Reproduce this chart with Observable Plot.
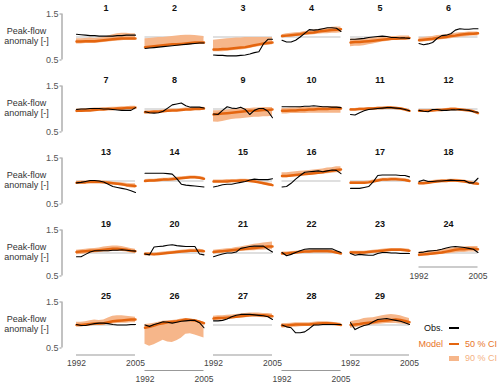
<!DOCTYPE html>
<html><head><meta charset="utf-8">
<script src="https://cdn.jsdelivr.net/npm/d3@7"></script>
<script src="https://cdn.jsdelivr.net/npm/@observablehq/plot@0.6"></script>
<style>
body{margin:0;background:#fff;font-family:"Liberation Sans",Arial,sans-serif;}
#wrap{position:relative;width:500px;height:386px;}
.lg{position:absolute;font-size:9px;line-height:10px;white-space:nowrap;}
.sw{position:absolute;}
</style></head><body><div id="wrap"></div>
<script>
const years = [1992,1993,1994,1995,1996,1997,1998,1999,2000,2001,2002,2003,2004,2005];
const panelLabels = ["1","2","3","4","5","6","7","8","9","10","11","12","13","14","15","16","17","18","19","20","21","22","23","24","25","26","27","28","29"];
const yTicks = [0.5, 1.5];
const yTickLabels = ["0.5", "1.5"];
const xTickYears = [1992, 2005];
const xTickLabels = ["1992", "2005"];
const refValue = 1;
const yLabel = "Peak-flow\nanomaly [-]";

const obs = [
[1.06,1.05,1.04,1.03,1.03,1.02,1.02,1.02,1.02,1.03,1.03,1.04,1.04,1.04],
[0.75,0.76,0.77,0.78,0.79,0.80,0.81,0.82,0.83,0.84,0.85,0.86,0.87,0.87],
[0.61,0.60,0.60,0.59,0.59,0.59,0.60,0.61,0.63,0.66,0.68,0.85,0.95,0.95],
[0.93,0.89,0.89,0.93,1.00,1.08,1.16,1.15,1.16,1.18,1.20,1.20,1.19,1.12],
[0.95,0.95,0.96,0.97,0.99,1.00,1.01,1.02,1.01,0.99,0.99,0.98,0.98,0.97],
[0.86,0.83,0.85,0.88,0.97,1.03,1.04,1.07,1.15,1.18,1.17,1.17,1.18,1.18],
[0.99,1.00,1.00,1.01,1.01,1.01,1.00,1.00,0.99,0.98,0.97,0.97,0.97,1.03],
[0.94,0.92,0.91,0.92,0.95,1.02,1.09,1.11,1.13,1.07,1.04,1.04,1.04,1.02],
[0.89,0.88,0.97,1.05,1.02,1.01,1.04,0.99,0.88,0.97,1.01,1.01,0.95,0.81],
[1.05,1.05,1.05,1.05,1.05,1.06,1.06,1.07,1.06,1.05,1.05,1.04,1.04,1.03],
[0.88,0.87,0.92,0.96,0.99,1.00,1.01,1.02,1.03,1.03,1.02,1.01,0.99,0.96],
[0.97,0.95,0.94,0.99,0.99,0.97,0.97,0.98,0.98,0.99,0.98,0.97,0.94,0.93],
[0.96,0.97,0.99,1.01,1.01,1.00,0.98,0.93,0.88,0.86,0.84,0.82,0.79,0.75],
[1.17,1.17,1.17,1.17,1.17,1.16,1.15,1.05,0.93,0.91,0.90,0.89,0.88,0.87],
[0.87,0.89,0.92,0.93,0.93,0.95,0.97,0.99,1.02,1.04,1.03,1.03,1.03,1.05],
[0.87,0.88,0.95,1.04,1.12,1.19,1.20,1.21,1.22,1.20,1.22,1.24,1.23,1.16],
[0.84,0.84,0.84,0.86,0.88,0.98,1.12,1.13,1.13,1.13,1.13,1.12,1.12,1.09],
[0.99,1.02,0.99,0.99,1.00,1.00,1.01,1.02,1.01,1.01,1.01,0.96,0.96,1.06],
[0.92,0.92,0.97,1.02,1.05,1.05,1.05,1.05,1.06,1.06,1.07,1.06,1.05,1.04],
[0.98,0.96,1.13,1.14,1.15,1.17,1.18,1.16,1.15,1.14,1.14,1.14,0.98,0.96],
[0.92,0.95,0.98,1.00,1.00,1.02,1.10,1.12,1.14,1.15,1.15,1.15,1.08,1.02],
[1.01,0.94,0.97,1.01,1.05,1.08,1.09,1.09,1.09,1.09,1.09,1.09,1.05,1.01],
[0.99,0.95,0.97,0.96,0.95,0.95,0.99,1.01,1.01,1.00,1.00,0.99,0.99,0.99],
[1.01,1.02,1.04,1.05,1.06,1.08,1.11,1.13,1.14,1.13,1.12,1.10,1.08,1.01],
[1.01,0.99,0.99,1.01,1.03,1.04,1.04,1.03,1.01,1.00,1.00,1.00,1.01,1.01],
[1.00,0.97,1.01,1.04,1.07,1.06,1.04,1.06,1.08,1.09,1.10,1.10,1.05,0.94],
[1.09,1.09,1.10,1.13,1.18,1.21,1.23,1.23,1.23,1.22,1.21,1.20,1.18,1.12],
[1.00,0.96,0.94,0.83,0.83,0.85,0.92,1.00,1.00,1.01,1.01,1.01,1.01,1.01],
[1.05,0.90,0.95,0.99,1.01,1.07,1.12,1.13,1.14,1.12,1.10,1.08,1.05,1.01]
];

const modelMid = [
[0.90,0.90,0.91,0.91,0.91,0.92,0.93,0.94,0.95,0.96,0.97,0.97,0.97,0.97],
[0.78,0.79,0.80,0.81,0.82,0.83,0.84,0.84,0.85,0.86,0.87,0.88,0.88,0.88],
[0.73,0.73,0.74,0.74,0.75,0.76,0.77,0.78,0.80,0.82,0.84,0.86,0.87,0.88],
[1.02,1.03,1.04,1.05,1.06,1.08,1.09,1.10,1.12,1.13,1.14,1.15,1.16,1.17],
[0.88,0.89,0.89,0.90,0.91,0.92,0.93,0.94,0.95,0.96,0.96,0.97,0.97,0.98],
[0.93,0.94,0.95,0.96,0.98,0.99,1.00,1.02,1.03,1.05,1.06,1.07,1.07,1.08],
[0.96,0.96,0.97,0.97,0.98,0.99,0.99,1.00,1.00,1.01,1.01,1.02,1.02,1.03],
[0.93,0.93,0.94,0.94,0.95,0.96,0.97,0.97,0.98,0.99,0.99,1.00,1.00,1.01],
[0.88,0.89,0.90,0.91,0.92,0.93,0.94,0.95,0.96,0.96,0.97,0.98,0.98,0.99],
[0.96,0.96,0.97,0.97,0.98,0.98,0.99,0.99,1.00,1.00,1.00,1.01,1.01,1.01],
[0.99,0.99,1.00,1.00,1.01,1.01,1.02,1.02,1.03,1.03,1.02,1.01,0.99,0.96],
[0.96,0.96,0.96,0.97,0.98,0.98,0.99,1.00,1.00,0.99,0.98,0.97,0.95,0.91],
[0.96,0.97,0.97,0.98,0.98,0.98,0.97,0.96,0.95,0.94,0.93,0.91,0.90,0.89],
[1.00,1.01,1.01,1.02,1.03,1.03,1.04,1.05,1.06,1.07,1.08,1.08,1.07,1.05],
[0.99,0.99,0.99,0.99,1.00,1.00,1.01,1.01,1.00,0.99,0.97,0.95,0.93,0.91],
[1.11,1.11,1.12,1.13,1.14,1.15,1.16,1.17,1.18,1.19,1.21,1.22,1.24,1.25],
[0.96,0.96,0.96,0.96,0.97,0.99,1.01,1.03,1.03,1.04,1.04,1.03,1.02,1.00],
[0.95,0.95,0.96,0.98,0.99,1.00,1.00,1.01,1.01,1.00,0.99,0.97,0.95,0.94],
[1.02,1.03,1.04,1.05,1.05,1.06,1.07,1.08,1.09,1.09,1.08,1.07,1.05,1.04],
[0.98,0.98,0.97,0.98,0.99,1.00,1.01,1.02,1.03,1.04,1.05,1.05,1.05,1.04],
[1.02,1.03,1.04,1.05,1.06,1.07,1.08,1.09,1.10,1.11,1.12,1.13,1.14,1.14],
[0.99,0.99,1.00,1.01,1.02,1.03,1.03,1.04,1.04,1.04,1.04,1.03,1.01,0.99],
[1.01,1.01,1.01,1.01,1.02,1.03,1.04,1.05,1.06,1.07,1.07,1.07,1.06,1.05],
[0.96,0.97,0.98,0.99,1.00,1.01,1.03,1.05,1.07,1.08,1.08,1.09,1.09,1.08],
[1.00,1.00,1.01,1.02,1.03,1.03,1.04,1.06,1.08,1.09,1.10,1.11,1.12,1.12],
[0.94,0.96,0.99,1.02,1.04,1.06,1.07,1.08,1.10,1.12,1.11,1.10,1.07,1.04],
[1.14,1.15,1.15,1.16,1.17,1.18,1.19,1.20,1.21,1.22,1.21,1.21,1.20,1.19],
[0.99,0.99,1.00,1.01,1.01,1.01,1.01,1.02,1.03,1.04,1.04,1.03,1.02,1.00],
[1.00,1.01,1.02,1.04,1.05,1.06,1.08,1.09,1.10,1.11,1.12,1.11,1.09,1.06]
];

const ci90Lo = [
[0.85,0.85,0.86,0.86,0.86,0.87,0.88,0.89,0.90,0.91,0.92,0.93,0.93,0.93],
[0.75,0.76,0.77,0.78,0.79,0.80,0.81,0.81,0.82,0.83,0.84,0.85,0.86,0.86],
[0.68,0.68,0.68,0.69,0.70,0.71,0.72,0.73,0.75,0.77,0.79,0.81,0.82,0.83],
[0.98,0.99,1.00,1.01,1.02,1.03,1.04,1.05,1.06,1.07,1.07,1.08,1.08,1.09],
[0.79,0.80,0.80,0.81,0.83,0.85,0.87,0.89,0.90,0.92,0.93,0.94,0.95,0.95],
[0.89,0.89,0.90,0.91,0.93,0.94,0.95,0.96,0.98,0.99,1.00,1.01,1.02,1.02],
[0.92,0.93,0.93,0.94,0.95,0.96,0.96,0.97,0.97,0.98,0.98,0.99,0.99,0.99],
[0.90,0.90,0.91,0.91,0.92,0.93,0.94,0.94,0.95,0.96,0.96,0.97,0.97,0.98],
[0.72,0.71,0.73,0.75,0.77,0.78,0.79,0.80,0.81,0.82,0.82,0.83,0.83,0.84],
[0.89,0.89,0.90,0.90,0.90,0.90,0.91,0.91,0.91,0.91,0.91,0.91,0.91,0.91],
[0.97,0.97,0.98,0.98,0.99,0.99,1.00,1.00,1.01,1.01,1.00,0.99,0.97,0.94],
[0.94,0.94,0.94,0.95,0.96,0.96,0.97,0.98,0.98,0.97,0.96,0.95,0.93,0.89],
[0.93,0.94,0.94,0.95,0.95,0.95,0.94,0.93,0.92,0.91,0.89,0.87,0.85,0.84],
[0.97,0.97,0.98,0.98,0.99,1.00,1.01,1.02,1.03,1.04,1.05,1.05,1.04,1.02],
[0.96,0.96,0.96,0.96,0.97,0.97,0.98,0.98,0.97,0.96,0.94,0.92,0.90,0.88],
[1.07,1.07,1.08,1.09,1.10,1.11,1.12,1.13,1.14,1.15,1.16,1.17,1.18,1.18],
[0.93,0.93,0.93,0.93,0.94,0.96,0.98,1.00,1.00,1.01,1.01,1.00,0.99,0.97],
[0.92,0.92,0.93,0.95,0.96,0.97,0.97,0.98,0.98,0.97,0.96,0.94,0.92,0.91],
[0.96,0.97,0.98,0.99,1.00,1.01,1.02,1.02,1.03,1.03,1.03,1.02,1.00,0.99],
[0.95,0.95,0.94,0.95,0.96,0.97,0.98,0.99,1.00,1.01,1.02,1.02,1.02,1.01],
[0.98,0.99,1.00,1.01,1.01,1.02,1.03,1.04,1.05,1.05,1.06,1.06,1.07,1.07],
[0.96,0.96,0.97,0.98,0.99,1.00,1.00,1.01,1.01,1.01,1.01,1.00,0.98,0.96],
[0.98,0.98,0.98,0.98,0.99,1.00,1.01,1.02,1.03,1.04,1.04,1.04,1.03,1.02],
[0.92,0.93,0.94,0.95,0.96,0.97,0.98,0.99,1.00,1.01,1.01,1.02,1.02,1.02],
[0.96,0.96,0.97,0.98,0.99,0.99,1.00,1.01,1.02,1.03,1.04,1.04,1.05,1.05],
[0.58,0.54,0.57,0.62,0.67,0.63,0.62,0.66,0.71,0.80,0.81,0.78,0.75,0.72],
[1.10,1.10,1.11,1.12,1.13,1.14,1.15,1.16,1.17,1.17,1.17,1.16,1.16,1.15],
[0.93,0.94,0.95,0.95,0.96,0.97,0.97,0.98,0.99,1.00,1.00,0.99,0.98,0.97],
[0.93,0.94,0.96,0.97,0.99,1.00,1.01,1.02,1.03,1.03,1.03,1.02,1.01,1.00]
];

const ci90Hi = [
[0.96,0.96,0.97,0.98,0.97,0.98,0.99,1.02,1.05,1.07,1.08,1.08,1.07,1.07],
[0.96,0.97,0.98,0.99,0.99,1.00,1.01,1.02,1.03,1.04,1.04,1.03,1.02,1.01],
[0.93,0.94,0.95,0.96,0.97,0.98,0.98,0.99,0.99,0.99,0.99,0.99,0.99,0.99],
[1.05,1.07,1.08,1.09,1.10,1.12,1.13,1.15,1.16,1.18,1.19,1.21,1.22,1.22],
[0.95,0.95,0.96,0.96,0.97,0.98,0.99,1.00,1.00,1.01,1.01,1.02,1.02,1.02],
[0.98,0.99,1.00,1.01,1.03,1.04,1.05,1.07,1.08,1.09,1.10,1.11,1.11,1.11],
[1.00,1.00,1.01,1.01,1.02,1.02,1.03,1.03,1.04,1.04,1.05,1.05,1.06,1.06],
[0.96,0.96,0.97,0.97,0.98,0.99,1.00,1.00,1.01,1.02,1.02,1.03,1.03,1.04],
[0.96,0.96,0.97,0.98,0.99,1.00,1.00,1.01,1.01,1.02,1.02,1.03,1.03,1.03],
[1.01,1.01,1.02,1.02,1.03,1.03,1.03,1.04,1.04,1.04,1.05,1.05,1.05,1.05],
[1.01,1.01,1.02,1.02,1.03,1.03,1.04,1.04,1.05,1.05,1.04,1.03,1.01,0.98],
[0.98,0.98,0.98,0.99,1.00,1.00,1.01,1.02,1.02,1.01,1.00,0.99,0.97,0.93],
[0.99,1.00,1.00,1.01,1.01,1.01,1.00,0.99,0.98,0.97,0.96,0.95,0.94,0.94],
[1.03,1.04,1.04,1.05,1.06,1.06,1.07,1.08,1.09,1.10,1.11,1.11,1.10,1.08],
[1.02,1.02,1.02,1.03,1.03,1.03,1.04,1.04,1.03,1.02,1.00,0.98,0.96,0.94],
[1.18,1.18,1.19,1.20,1.21,1.22,1.23,1.24,1.25,1.26,1.28,1.29,1.31,1.31],
[0.99,0.99,0.99,0.99,1.00,1.02,1.04,1.06,1.06,1.07,1.07,1.06,1.05,1.03],
[0.98,0.98,0.99,1.01,1.02,1.03,1.03,1.04,1.04,1.03,1.02,1.00,0.98,0.97],
[1.06,1.07,1.08,1.09,1.10,1.11,1.13,1.14,1.15,1.15,1.14,1.12,1.10,1.08],
[1.01,1.01,1.00,1.01,1.02,1.03,1.04,1.05,1.06,1.07,1.08,1.08,1.08,1.07],
[1.06,1.07,1.08,1.09,1.10,1.12,1.13,1.15,1.17,1.19,1.20,1.22,1.23,1.24],
[1.02,1.02,1.03,1.04,1.05,1.06,1.06,1.07,1.07,1.07,1.07,1.06,1.04,1.02],
[1.04,1.04,1.04,1.04,1.05,1.06,1.07,1.08,1.09,1.10,1.10,1.10,1.09,1.08],
[1.02,1.03,1.04,1.05,1.06,1.07,1.09,1.10,1.12,1.13,1.13,1.14,1.14,1.14],
[1.06,1.06,1.07,1.09,1.11,1.10,1.11,1.15,1.19,1.20,1.20,1.19,1.18,1.17],
[1.01,1.02,1.04,1.06,1.08,1.09,1.10,1.11,1.13,1.14,1.13,1.12,1.09,1.06],
[1.19,1.20,1.20,1.21,1.22,1.23,1.24,1.25,1.26,1.26,1.26,1.25,1.25,1.24],
[1.03,1.03,1.04,1.05,1.05,1.05,1.05,1.06,1.07,1.07,1.07,1.06,1.05,1.04],
[1.07,1.09,1.11,1.14,1.15,1.16,1.18,1.20,1.22,1.23,1.22,1.20,1.17,1.14]
];

const nCols = 6, nRows = 5;
const nPanels = panelLabels.length;

const panels = panelLabels.map((label, i) => ({label, fx: i % nCols, fy: Math.floor(i / nCols)}));
const rows = [];
panels.forEach((p, i) => {
  years.forEach((yr, j) => {
    rows.push({fx: p.fx, fy: p.fy, year: yr, obs: obs[i][j], mid: modelMid[i][j], lo: ci90Lo[i][j], hi: ci90Hi[i][j]});
  });
});

const leftPanels = panels.filter(p => p.fx === 0);
const leftTicks = leftPanels.flatMap(p => yTicks.map((v, k) => ({fx: p.fx, fy: p.fy, v, label: yTickLabels[k]})));

// panel at the bottom of each column gets an x axis
const bottomPanels = d3.range(nCols).map(c => {
  const inCol = panels.filter(p => p.fx === c);
  return inCol[inCol.length - 1];
});
const lastRow = nRows - 1;
const axNormal = bottomPanels.filter(p => p.fy === lastRow && p.fx % 2 === 0);
const axLow = bottomPanels.filter(p => p.fy === lastRow && p.fx % 2 === 1);
const axHigh = bottomPanels.filter(p => p.fy !== lastRow);
const tickRows = g => g.flatMap(p => xTickYears.map((yr, k) => ({fx: p.fx, fy: p.fy, year: yr, label: xTickLabels[k]})));

const axisColor = "#999";
const labelColor = "#444";

function xAxisMarks(group, lineDy, labelDy) {
  return [
    Plot.ruleY(group, {fx: "fx", fy: "fy", y: () => yTicks[0], x1: () => years[0], x2: () => years[years.length - 1], dy: lineDy, stroke: axisColor, strokeWidth: 1.2}),
    Plot.text(tickRows(group), {fx: "fx", fy: "fy", x: "year", text: "label", frameAnchor: "bottom", lineAnchor: "middle", dy: labelDy, fontSize: 8.5, fill: labelColor})
  ];
}

const chart = Plot.plot({
  width: 500,
  height: 386,
  marginLeft: 76,
  marginRight: 22.5,
  marginTop: 13.5,
  marginBottom: 38.5,
  style: {fontFamily: "'Liberation Sans', Arial, sans-serif", fontSize: "9px", background: "white"},
  fx: {domain: d3.range(nCols), paddingInner: 0.139, paddingOuter: 0, round: false, axis: null},
  fy: {domain: d3.range(nRows), paddingInner: 0.361, paddingOuter: 0, round: false, axis: null},
  x: {domain: [years[0], years[years.length - 1]], axis: null},
  y: {domain: [yTicks[0], yTicks[1]], axis: null},
  marks: [
    Plot.ruleY(panels, {fx: "fx", fy: "fy", y: () => refValue, stroke: "#d4d4d4", strokeWidth: 1.6}),
    Plot.areaY(rows, {fx: "fx", fy: "fy", x: "year", y1: "lo", y2: "hi", fill: "#f6b68a", curve: "linear"}),
    Plot.lineY(rows, {fx: "fx", fy: "fy", x: "year", y: "mid", stroke: "#e4650f", strokeWidth: 2.5}),
    Plot.lineY(rows, {fx: "fx", fy: "fy", x: "year", y: "obs", stroke: "#000", strokeWidth: 1.1}),
    Plot.text(panels, {fx: "fx", fy: "fy", text: "label", frameAnchor: "top", lineAnchor: "middle", dy: -6, fontWeight: "bold", fontSize: 9, fill: "#111"}),
    // y axes on the left column
    Plot.ruleX(leftPanels, {fx: "fx", fy: "fy", x: () => years[0], y1: () => yTicks[0], y2: () => yTicks[1], dx: -14.5, stroke: axisColor, strokeWidth: 1.2}),
    Plot.ruleY(leftTicks, {fx: "fx", fy: "fy", y: "v", x1: () => years[0], x2: () => years[0], insetLeft: -16.5, insetRight: 14.5, stroke: axisColor, strokeWidth: 1}),
    Plot.text(leftTicks, {fx: "fx", fy: "fy", y: "v", text: "label", frameAnchor: "left", textAnchor: "end", dx: -18, fontSize: 9, fill: "#555"}),
    Plot.text(leftPanels, {fx: "fx", fy: "fy", text: () => yLabel, frameAnchor: "left", textAnchor: "middle", dx: -50, dy: -1, lineHeight: 1.05, fontSize: 9, fill: "#333"}),
    ...xAxisMarks(axNormal, 7, 15.5),
    ...xAxisMarks(axLow, 22.5, 31.5),
    ...xAxisMarks(axHigh, -9, 0.5)
  ]
});

const wrap = document.getElementById("wrap");
wrap.appendChild(chart);

// legend
const legendItems = [
  {kind: "text", text: "Obs.", right: 57, top: 323, color: "#111"},
  {kind: "swatch", left: 449, top: 327.3, w: 10, h: 1.6, color: "#000"},
  {kind: "text", text: "Model", right: 57, top: 339, color: "#e8742a"},
  {kind: "swatch", left: 449, top: 342.8, w: 10, h: 2.5, color: "#e4650f"},
  {kind: "text", text: "50 % CI", left: 465, top: 339, color: "#e8742a"},
  {kind: "swatch", left: 449, top: 355.5, w: 10, h: 5, color: "#f6b68a"},
  {kind: "text", text: "90 % CI", left: 465, top: 353, color: "#f4b283"}
];
legendItems.forEach(it => {
  const el = document.createElement("div");
  if (it.kind === "text") {
    el.className = "lg";
    el.textContent = it.text;
    el.style.color = it.color;
    if (it.right != null) el.style.right = it.right + "px"; else el.style.left = it.left + "px";
    el.style.top = it.top + "px";
  } else {
    el.className = "sw";
    el.style.left = it.left + "px";
    el.style.top = it.top + "px";
    el.style.width = it.w + "px";
    el.style.height = it.h + "px";
    el.style.background = it.color;
  }
  wrap.appendChild(el);
});
</script>
</body></html>
